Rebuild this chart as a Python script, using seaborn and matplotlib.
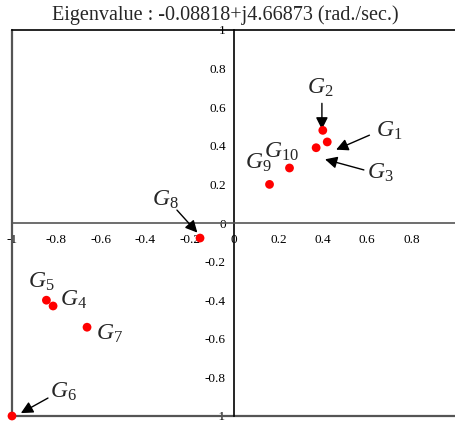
import numpy as np
import pandas as pd
import seaborn as sns
import matplotlib.pyplot as plt

# autovalori (parte reale, parte immaginaria) per ogni generatore
nomi = ["G1", "G2", "G3", "G4", "G5", "G6", "G7", "G8", "G9", "G10"]
reale = [0.42, 0.40, 0.37, -0.815, -0.845, -1.0, -0.662, -0.153, 0.16, 0.25]
immag = [0.42, 0.48, 0.39, -0.43, -0.40, -1.0, -0.54, -0.078, 0.20, 0.285]

# posizioni delle etichette
etich_x = [0.70, 0.387, 0.66, -0.725, -0.87, -0.77, -0.56, -0.31, 0.108, 0.216]
etich_y = [0.48, 0.70, 0.26, -0.40, -0.305, -0.875, -0.575, 0.12, 0.31, 0.37]

# frecce: (nome, coda, punta)
frecce = {"G2": ((0.396, 0.62), (0.396, 0.485)),
          "G1": ((0.61, 0.455), (0.46, 0.38)),
          "G3": ((0.585, 0.275), (0.41, 0.33)),
          "G8": ((-0.257, 0.067), (-0.165, -0.05)),
          "G6": ((-0.838, -0.907), (-0.96, -0.985))}

tick_vals = [-1, -0.8, -0.6, -0.4, -0.2, 0, 0.2, 0.4, 0.6, 0.8, 1]

df = pd.DataFrame({"nome": nomi, "reale": reale, "immag": immag})

sns.set_style("white")
plt.rcParams["font.family"] = ["Liberation Serif", "DejaVu Serif"]
plt.rcParams["mathtext.fontset"] = "custom"
plt.rcParams["mathtext.it"] = "Liberation Serif:italic"
plt.rcParams["mathtext.rm"] = "Liberation Serif"

fig = plt.figure(figsize=(4.55, 4.21), dpi=100)
ax = fig.add_axes([12/455, 5/421, 444/455, 386/421])

sns.scatterplot(data=df, x="reale", y="immag", color="red", s=40,
                edgecolor="none", ax=ax, zorder=5, clip_on=False)

ax.set_xlim(-1, 1)
ax.set_ylim(-1, 1)
ax.set_xlabel("")
ax.set_ylabel("")

# assi centrali
ax.spines["left"].set_position(("data", 0))
ax.spines["bottom"].set_position(("data", 0))
ax.spines["left"].set_color("black")
ax.spines["bottom"].set_color("#555555")
ax.spines["top"].set_visible(True)
ax.spines["top"].set_color("black")
ax.spines["right"].set_visible(False)
for s in ["left", "bottom", "top"]:
    ax.spines[s].set_linewidth(1.2)
# cornice esterna
ax.axvline(-1, color="#555555", lw=1.6, clip_on=False)
ax.axhline(-1, color="#555555", lw=1.6, clip_on=False)

ax.set_xticks([-1, -0.8, -0.6, -0.4, -0.2, 0, 0.2, 0.4, 0.6, 0.8])
ax.set_xticklabels(["-1", "-0.8", "-0.6", "-0.4", "-0.2", "0", "0.2", "0.4", "0.6", "0.8"])
ax.set_yticks(tick_vals)
ax.set_yticklabels(["-1", "-0.8", "-0.6", "-0.4", "-0.2", "0", "0.2", "0.4", "0.6", "0.8", "1"])
ax.tick_params(axis="x", direction="in", length=4, width=1, colors="#333333",
               labelsize=9.5, pad=8, labelcolor="black")
ax.tick_params(axis="y", direction="in", length=4, width=1, colors="#333333",
               labelsize=9.5, pad=6, labelcolor="black")

for n, tx, ty in zip(nomi, etich_x, etich_y):
    ax.text(tx, ty, r"$G_{%s}$" % n[1:], fontsize=17, ha="center", va="center")

for n, (coda, punta) in frecce.items():
    ax.annotate("", xy=punta, xytext=coda,
                arrowprops=dict(arrowstyle="-|>", color="black", lw=1,
                                mutation_scale=18, shrinkA=0, shrinkB=0))

fig.text(225/455, 1 - 15/421, "Eigenvalue : -0.08818+j4.66873 (rad./sec.)",
         ha="center", va="center", fontsize=14.5)

fig.savefig("out.png", dpi=100)
